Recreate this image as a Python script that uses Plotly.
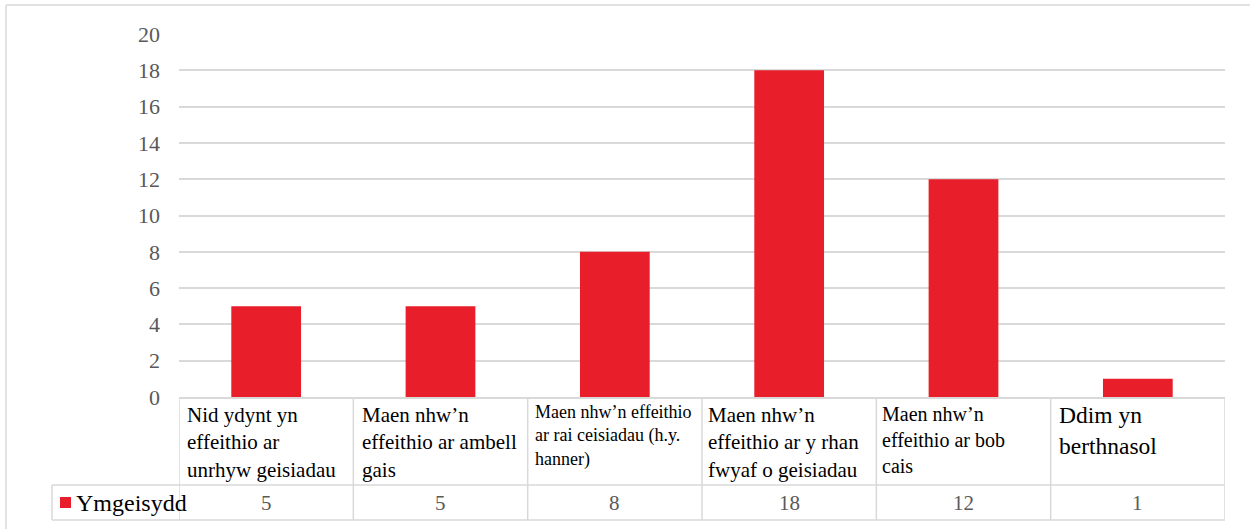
import plotly.graph_objects as go

categories = [
    "Nid ydynt yn<br>effeithio ar<br>unrhyw geisiadau",
    "Maen nhw’n<br>effeithio ar ambell<br>gais",
    "Maen nhw’n effeithio<br>ar rai ceisiadau (h.y.<br>hanner)",
    "Maen nhw’n<br>effeithio ar y rhan<br>fwyaf o geisiadau",
    "Maen nhw’n<br>effeithio ar bob<br>cais",
    "Ddim yn<br>berthnasol",
]
series_name = "Ymgeisydd"
values = [5, 5, 8, 18, 12, 1]
y_ticks = [0, 2, 4, 6, 8, 10, 12, 14, 16, 18, 20]

# styling
label_sizes = [21, 21, 18, 21, 20, 23.5]
label_xshift = [6, 7, 5, 4, 4, 6]
label_top = [401, 401, 400, 401, 401, 400]
RED = "#E81E2A"
GRID = "#D9D9D9"
FONT = "Liberation Serif"

W_FIG, H_FIG = 1250, 529
L, R_EDGE, T, B_EDGE = 179, 1225, 34, 397
PW, PH = R_EDGE - L, B_EDGE - T


def px_x(px):
    return (px - L) / PW


def px_y(py):
    return (B_EDGE - py) / PH


xs = list(range(len(values)))

fig = go.Figure()
fig.add_trace(go.Bar(
    x=xs, y=values, width=0.4, marker=dict(color=RED, line=dict(width=0)),
    name=series_name, showlegend=False, hoverinfo="skip",
))

shapes = []
line_style = dict(color=GRID, width=1.5)

# outer chart border (left and top visible)
shapes.append(dict(type="line", xref="paper", yref="paper",
                   x0=px_x(6), x1=px_x(1252), y0=px_y(5), y1=px_y(5), line=line_style))
shapes.append(dict(type="line", xref="paper", yref="paper",
                   x0=px_x(6), x1=px_x(6), y0=px_y(5), y1=px_y(535), line=line_style))

# data table vertical lines
for i in range(len(values) + 1):
    shapes.append(dict(type="line", xref="x", yref="paper",
                       x0=i - 0.5, x1=i - 0.5, y0=px_y(397), y1=px_y(520), line=line_style))
# legend cell left
shapes.append(dict(type="line", xref="paper", yref="paper",
                   x0=px_x(52), x1=px_x(52), y0=px_y(485), y1=px_y(520), line=line_style))
# horizontal lines of table
for py in (485, 520):
    shapes.append(dict(type="line", xref="paper", yref="paper",
                       x0=px_x(52), x1=px_x(R_EDGE), y0=px_y(py), y1=px_y(py), line=line_style))
# legend marker
shapes.append(dict(type="rect", xref="paper", yref="paper",
                   x0=px_x(60), x1=px_x(71), y0=px_y(497), y1=px_y(508),
                   fillcolor=RED, line=dict(width=0)))

annotations = []
for i, (lab, fs, xs_, top) in enumerate(zip(categories, label_sizes, label_xshift, label_top)):
    annotations.append(dict(
        x=i - 0.5, xref="x", xshift=xs_, xanchor="left",
        y=px_y(top), yref="paper", yanchor="top",
        text=lab, align="left", showarrow=False,
        font=dict(family=FONT, size=fs, color="#000000"),
    ))
    annotations.append(dict(
        x=i, xref="x", xanchor="center",
        y=px_y(503), yref="paper", yanchor="middle",
        text=str(values[i]), showarrow=False,
        font=dict(family=FONT, size=21, color="#595959"),
    ))
annotations.append(dict(
    x=px_x(74), xref="paper", xanchor="left",
    y=px_y(503), yref="paper", yanchor="middle",
    text=series_name, showarrow=False,
    font=dict(family=FONT, size=24, color="#000000"),
))

fig.update_layout(
    width=W_FIG, height=H_FIG,
    margin=dict(l=L, r=W_FIG - R_EDGE, t=T, b=H_FIG - B_EDGE, pad=0),
    paper_bgcolor="white", plot_bgcolor="white",
    showlegend=False,
    bargap=0.6,
    shapes=shapes,
    annotations=annotations,
    xaxis=dict(range=[-0.5, len(values) - 0.5], showticklabels=False, showgrid=False,
               zeroline=False, showline=True, linecolor=GRID, linewidth=1.5,
               fixedrange=True),
    yaxis=dict(range=[0, 20], tickvals=y_ticks, showgrid=True, gridcolor=GRID, gridwidth=1.5,
               zeroline=False, showline=False, ticks="",
               tickfont=dict(family=FONT, size=22, color="#595959"),
               ticklabelstandoff=18, fixedrange=True),
)

fig.write_html(
    "out.html",
    config={"displayModeBar": False},
    post_script="document.body.style.margin='0';document.body.style.padding='0';"
                "document.body.style.overflow='hidden';",
)
